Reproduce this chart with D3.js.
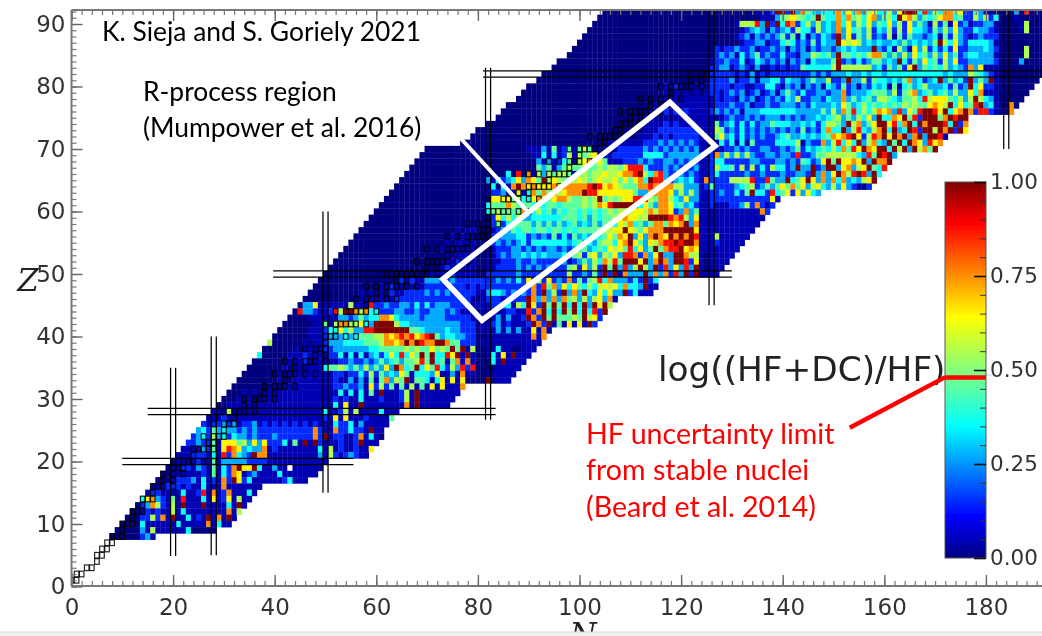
<!DOCTYPE html>
<html><head><meta charset="utf-8">
<script src="https://cdn.jsdelivr.net/npm/d3@7"></script>
<style>html,body{margin:0;padding:0;background:#fff;overflow:hidden}svg{display:block}</style>
</head><body><svg id="c" width="1042" height="636"></svg>
<script>
// Z values of the rows listed below, top row first
const zValues = d3.range(92, 7, -1);
const firstN = [105,104,103,102,101,100,99,98,96,95,93,92,90,89,88,86,85,84,82,80,79,77,
70,69,68,67,66,65,64,63,62,61,60,59,58,57,56,55,54,53,52,51,50,49,48,47,46,45,44,43,42,41,40,39,38,37,36,35,34,33,32,31,30,29,28,27,26,25,24,23,22,21,20,19,18,17,16,15,14,13,12,11,10,9,8];
const lastN = [191,191,191,191,191,191,191,191,191,191,191,190,189,188,187,186,185,176,176,176,172,171,
170,162,161,160,159,158,157,147,139,138,137,136,135,134,133,132,131,130,129,128,127,115,115,114,107,106,105,104,103,94,93,92,91,90,89,88,87,86,77,76,75,74,64,63,62,61,61,60,59,58,50,49,48,46,37,36,35,34,33,32,31,28,16];
// Colour levels read per row: "firstDecade:levels" (cells before it and after its end are level 0)
const levelRows = [
"130:000001112a a2a3854344 4847483674 4637aaa493 6488572253 1100003090 0",
"130:0000001113 5676545a54 4848564783 564a786354 5788452263 6240001000 0",
"130:0166693a2a 4982463634 3847364735 4736273531 6251723122 3310000160 0",
"130:0012343132 3426442634 3837453624 3626274432 5363732243 3210000160 0",
"130:0123132323 5251413243 2a37253623 2615253323 4152632123 2220000000 0",
"130:0012233122 4542325243 3a76763434 3343534343 5a64732444 4310000000 0",
"120:0000000212 2322312232 3132313233 23434333a3 2416317362 4242722333 4320000060 0",
"120:0000000232 3142352322 4221336545 3a55454688 5353637453 6373523443 3310000060 0",
"120:0000001223 2241243232 3132314333 5a23242355 343a425374 5263722333 3320000300 0",
"120:0000002233 1232131121 2122544444 6a66666634 253527a354 5463432837 1110000000 0",
"120:0000002222 2121312122 2222223232 3334334344 3444444444 4434333654 3210000000 0",
"120:0000002222 3122313344 2433235336 223a336254 4343583423 4a35342a35 3a10000000 0",
"110:0000001112 1010102222 1221122442 1323132314 3252313243 4151453463 3342523a47 2210000000",
"110:0000000101 0101012212 3231231231 3532422332 3382333455 5362568345 3453633748 1110000000",
"110:0000001111 1111111212 2132312323 2436223324 3383534536 6543556496 77754636a6 4310000000",
"110:0000010101 1111111222 3223122322 3332324333 4375346454 5454656557 876a47459a 3410080000",
"110:0000111212 1211112323 2313334444 4443333353 6385946468 7839375 9aa 97a478a829 921008",
"110:0001110101 1111111112 3223232333 2323233434 563536473a 4487a592aa a58a9aa",
"110:0001111212 1111111523 4242423354 4433434246 653a68357a a7948a4a8a aa94a28",
"110:0001112222 2222111652 3242323232 3232523248 44a3694368 a4a34a92aa 6a8a2a7",
"110:0011121212 2222111573 4242323223 4533434345 8789a72698 a7a8a38a3a a91",
"100:0000001111 1112223232 3232111142 4141522224 4446132283 69474a3684 3a5a4a8739 78",
"90:1113151251 5651111122 2223232323 2323111112 2323223322 3235243454 648597a87a a4a6a3a685 a",
"90:0114141261 6567111222 2224444233 3333212836 3636322332 3329223556 666664395a 9a3",
"90:0031312451 6785751112 2232322332 3232112442 2222332223 323254237a 5a7787a3a8 8a",
"90:0053513565 5655656657 9994222323 2323112644 5262624264 423a33a23a a378367a54 9",
"80:0000004090 8163656651 5656676678 89a6489322 3232112422 2223223222 322332a383 7a869a93a4",
"80:0031423473 875a676566 7656766757 5784a99323 4342182222 6666922953 3a457a7383 84834367a",
"80:0004041 8a8 7877787888 889a978765 5588988886 6333125222 2345623535 7585736743 63732102",
"80:0012231171 4858586788 8a99777777 7533888873 6363112232 2425a44294 5727374322",
"80:0007777564 4786578865 56 56a56567 7999658864 3733112222 2222222271",
"80:0045558655 5454554555 565687 9aaa aa47538874 5342112111 223628212",
"80:0045655558 5464535455 4545456566 6776868872 3835111111 11111182",
"80:0002746463 3444444555 4535455678 7766aaaa98 9637111111 1111111",
"80:0002524555 5353535345 3435356476 8453588587 8a38111111 111111",
"70:0000001011 0001233545 5455455454 555566677a 7657888aaa aaa7111111 11111",
"70:0000010111 0002233344 2323252425 3435457587 a3738a87a8 a8a9111611 1111",
"70:0000101111 0002323234 2444444434 5343566478 a75376899a 9aa8111211 111",
"70:0001011111 0011222332 3232332323 4534547675 94735a5899 a787111111 11",
"70:0000101111 0011232334 3434333425 6267365739 982837a33a a866101111 1",
"70:0001112111 0011122232 2322222312 353648695a aa7a38a83a a927101111",
"70:0001211111 0011222232 3232312256 27362a5a39 36a63a2937 393a101 11",
"70:0111221111 0022222232 2222222262 23252a2a18 333a383829 3a2a1111",
"60:0000021211 3332232222 2222323242 7262723282 5256948333 242a24",
"60:0112111111 2222222212 1222222222 2829583747 5464676748 443a11",
"50:0000000101 1112112222 3232322222 1134432323 282a362a38 3a4374733a 24111",
"50:0000000111 1111222222 2222222221 0122212222 a838383856 3636738161",
"40:0000003371 1111161119 2232233242 4233322221 1112234164 a72a5a5a4a 4a3a7a61",
"40:0000093321 1296aa8684 4222332232 2333232111 0111112211 928a4a4a5a 4a492a",
"40:0000000111 1113323534 4887433332 3333222221 0111313112 a82a5a5556 5a672",
"40:0000000011 5168866743 aaaa644333 3333333222 0112312111 2a82a15171 71a2",
"40:0000000111 2447463399 aaaaaaa554 3333433222 0111313131 17181",
"40:0000000111 2333434555 6687898978 9a53443322 0011111111 1818",
"30:0000000006 0000001011 2333444455 568878a8a9 88aa855222 0111111111 111",
"40:0000101111 2233333334 4555556565 57565a5a16 0011411001 11",
"30:0000000400 0001112111 1224141413 424749475a 5a4497a1a1 0014171a11 1",
"40:0001112111 1112232232 3534535569 5a45158181 00041a1111",
"40:0010111111 4556535363 5373a845a4 7594263929 000011111",
"40:0101111111 1122122426 2534375144 4371131811 00111111",
"40:0110111111 1121131315 158365a155 4147171700 00a0111",
"40:1011111111 1122322317 2625151615 17171118",
"30:5000101011 1111111111 1114141415 1a111261a1 1111111",
"30:0001010011 1111111111 1121211411 1211126 1a1 111111",
"30:0111111111 1111111111 1141711a11 11111181a1 11111",
"20:0000000011 1611111111 1111111111 4112616111 14111",
"20:0000001111 2111111111 1111111111 2171711121 1115",
"20:0112232122 3231223121 2121212121 1142241311 111",
"20:0123334253 4332323222 2222222282 118224221a 11",
"20:1122234263 4243323 222 3222222282 a122112814 1",
"20:1112232251 7775637372 224151a1a2 1112112a11 1",
"20:1111113251 7987343381 2111111114 1612112117",
"20:1111222141 928432a881 1111111113 162123211",
"20:0111121151 3333322221 1111111111 1",
"20:1122132151 428a77a411 311w111111",
"20:1111112151 4287123111 141111111",
"20:1222314121 82a7241111 1124111",
"10:0000001112 2212114111 81111111",
"10:0000012211 1141129181 2811141",
"10:0000478321 5191114171 271611",
"10:0000238621 61a111a111 141a1",
"10:0000121211 6141111111 1816",
"10:0000226281 a114121a18 1a1",
"10:0000411111 1411111814 11",
"10:0000316111 111400000",
"10:0000231"
];
const levelCodes = "0123456789a";
const levelValues = [0,0.045,0.15,0.27,0.36,0.46,0.55,0.65,0.75,0.88,1];
// Stable nuclei (outlined squares): proton number, then its neutron numbers
const stableZ = [1,2,3,4,5,6,7,8,9,10,11,12,13,14,15,16,17,18,19,20,21,22,23,24,25,26,27,28,29,30,31,32,33,34,35,36,37,38,39,40,41,42,44,45,46,47,48,49,50,51,52,53,54,55,56,57,58,59,60,62,63,64,65,66,67,68,69,70,71,72,73,74,75,76,77,78,79,80,81,82,83];
const stableN = [[0,1],[1,2],[3,4],[5],[5,6],[6,7],[7,8],[8,9,10],[10],[10,11,12],[12],[12,13,14],[14],[14,15,16],[16],[16,17,18,20],[18,20],[18,20,22],[20,21,22],[20,22,23,24,26,28],[24],[24,25,26,27,28],[27,28],[26,28,29,30],[30],[28,30,31,32],[32],[30,32,33,34,36],[34,36],[34,36,37,38,40],[38,40],[38,40,41,42,44],[42],[40,42,43,44,46,48],[44,46],[42,44,46,47,48,50],[48,50],[46,48,49,50],[50],[50,51,52,54,56],[52],[50,52,53,54,55,56,58],[52,54,55,56,57,58,60],[58],[56,58,59,60,62,64],[60,62],[58,60,62,63,64,65,66,68],[64,66],[62,64,65,66,67,68,69,70,72,74],[70,72],[68,70,71,72,73,74,76,78],[74],[70,72,74,75,76,77,78,80,82],[78],[74,76,78,79,80,81,82],[81,82],[78,80,82,84],[82],[82,83,84,85,86,88,90],[82,85,86,87,88,90,92],[88,90],[90,91,92,93,94,96],[94],[90,92,94,95,96,97,98],[98],[94,96,98,99,100,102],[100],[98,100,101,102,103,104,106],[104,105],[102,104,105,106,107,108],[107,108],[108,109,110,112],[110,112],[108,110,111,112,113,114,116],[114,116],[112,114,116,117,118,120],[118],[116,118,119,120,121,122,124],[122,124],[122,124,125,126],[126]];
// Magic numbers: the double lines and how far each one runs
const magicZ = [[20,10,55.5],[28,15,83.5],[50,39.7,130],[82,81,192]];
const magicN = [[20,4.9,35],[28,5,40],[50,15,60],[82,26.7,83],[126,45,93],[184,70,93]];
const xTicksMajor = d3.range(0,181,20), xTicksMinor = d3.range(0,192,2);
const yTicksMajor = d3.range(0,91,10), yTicksMinor = d3.range(0,93,1);
const cbarMajor = [0,0.25,0.5,0.75,1], cbarMinor = d3.range(0,1.001,0.05);
const rprocessBox = [[117.8,77.5],[126.7,70.5],[80.8,42.6],[73.1,49.2]];
const rprocessPointer = [[76.5,71.8],[89.9,59.9]];
const limitPointer = [[153.2,25.4],[172,33.5]];
const limitValue = 0.48;

const jetStops = [0,0.11,0.35,0.64,0.89,1];
const jetColours = ["#00007f","#0000ff","#00ffff","#ffff00","#ff0000","#7f0000"];
const color = d3.scaleLinear().domain(jetStops).range(jetColours);

const svg = d3.select("#c");
const x = d3.scaleLinear().domain([0,191]).range([71.5,1041.8]);
const y = d3.scaleLinear().domain([0,92.2]).range([586.5,10.25]);
const cb = d3.scaleLinear().domain([0,1]).range([558,182]);

const defs = svg.append("defs");
defs.append("clipPath").attr("id","plot").append("rect").attr("x",71.5).attr("y",10).attr("width",971).attr("height",577);
defs.append("filter").attr("id","b1").attr("x","-2%").attr("y","-2%").attr("width","104%").attr("height","104%").append("feGaussianBlur").attr("stdDeviation",0.75);
defs.append("filter").attr("id","b2").attr("x","-2%").attr("y","-2%").attr("width","104%").attr("height","104%").append("feGaussianBlur").attr("stdDeviation",0.45);
const grad = defs.append("linearGradient").attr("id","jet").attr("x1",0).attr("y1",1).attr("x2",0).attr("y2",0);
jetStops.forEach((s,i)=>grad.append("stop").attr("offset",s).attr("stop-color",jetColours[i]));

const cells = [];
zValues.forEach((z,i)=>{
  const [lit,str] = levelRows[i].split(":");
  const lv = str.replace(/ /g,"");
  for(let n=firstN[i]; n<=lastN[i]; n++){
    const c = lv[n-(+lit)];
    cells.push({n,z,c:(c===undefined||n<+lit)?"0":c});
  }
});
const plot = svg.append("g").attr("clip-path","url(#plot)");
const heat = plot.append("g").attr("filter","url(#b1)");
heat.selectAll("rect").data(cells).join("rect")
  .attr("x",d=>x(d.n-0.5)).attr("y",d=>y(d.z+0.5))
  .attr("width",d=>x(d.n+0.5)-x(d.n-0.5)+0.3).attr("height",d=>y(d.z-0.5)-y(d.z+0.5)+0.3)
  .attr("fill",d=>d.c==="w"?"#fff":color(levelValues[levelCodes.indexOf(d.c)]));

const stable = stableZ.flatMap((z,i)=>stableN[i].map(n=>({n,z})));
const over = plot.append("g").attr("filter","url(#b2)");
over.selectAll("rect").data(stable).join("rect")
  .attr("x",d=>x(d.n-0.45)).attr("y",d=>y(d.z+0.45))
  .attr("width",d=>x(d.n+0.45)-x(d.n-0.45)).attr("height",d=>y(d.z-0.45)-y(d.z+0.45))
  .attr("fill","none").attr("stroke","#000").attr("stroke-width",1.2).attr("opacity",0.85);

const lineData = [];
magicZ.forEach(([m,a,b])=>[m-0.5,m+0.5].forEach(v=>lineData.push({x1:x(a),x2:x(b),y1:y(v),y2:y(v)})));
magicN.forEach(([m,a,b])=>[m-0.5,m+0.5].forEach(v=>lineData.push({x1:x(v),x2:x(v),y1:y(a),y2:y(b)})));
over.selectAll("line").data(lineData).join("line")
  .attr("x1",d=>d.x1).attr("x2",d=>d.x2).attr("y1",d=>d.y1).attr("y2",d=>d.y2)
  .attr("stroke","#000").attr("stroke-width",1.25);

// axes
const axisG = svg.append("g").attr("filter","url(#b2)");
const tickFont = "'DejaVu Sans'";
function minor(sel){sel.select(".domain").remove();sel.selectAll("text").remove();sel.selectAll("line").attr("stroke","#777").attr("stroke-width",1.2);}
axisG.append("g").attr("transform","translate(0,586)").call(d3.axisBottom(x).tickValues(xTicksMinor).tickSize(-5).tickFormat("")).call(minor);
axisG.append("g").attr("transform","translate(0,10)").call(d3.axisTop(x).tickValues(xTicksMinor).tickSize(-5).tickFormat("")).call(minor);
axisG.append("g").attr("transform","translate(71.5,0)").call(d3.axisLeft(y).tickValues(yTicksMinor).tickSize(-5).tickFormat("")).call(minor);
function major(sel){sel.select(".domain").remove();sel.selectAll("line").attr("stroke","#666").attr("stroke-width",1.4);sel.selectAll("text").attr("font-family",tickFont).attr("font-size",23).attr("fill","#333");}
axisG.append("g").attr("transform","translate(0,586)").call(d3.axisBottom(x).tickValues(xTicksMajor).tickSize(-11).tickPadding(13)).call(major);
axisG.append("g").attr("transform","translate(0,10)").call(d3.axisTop(x).tickValues(xTicksMajor).tickSize(-11).tickFormat("")).call(major);
axisG.append("g").attr("transform","translate(71.5,0)").call(d3.axisLeft(y).tickValues(yTicksMajor).tickSize(-11).tickPadding(6)).call(major);
axisG.selectAll("path.sp").data([[[71.5,10],[1042,10]],[[71.5,10],[71.5,586]],[[71.5,586],[1042,586]]]).join("path").attr("class","sp")
  .attr("d",d=>d3.line()(d)).attr("stroke","#777").attr("stroke-width",2).attr("fill","none");
axisG.append("text").attr("x",28).attr("y",291).attr("text-anchor","middle").attr("font-family","'DejaVu Serif','Liberation Serif'").attr("font-style","italic").attr("font-size",31).attr("fill","#222").text("Z");
axisG.append("text").attr("x",583).attr("y",645).attr("text-anchor","middle").attr("font-family","'DejaVu Serif','Liberation Serif'").attr("font-style","italic").attr("font-size",31).attr("fill","#222").text("N");

// r-process box and pointer
svg.append("path").attr("d",d3.line().x(d=>x(d[0])).y(d=>y(d[1])).curve(d3.curveLinearClosed)(rprocessBox)).attr("fill","none").attr("stroke","#fff").attr("stroke-width",5.5);
svg.append("path").attr("d",d3.line().x(d=>x(d[0])).y(d=>y(d[1]))(rprocessPointer)).attr("fill","none").attr("stroke","#fff").attr("stroke-width",4);

// colour bar
const cbG = svg.append("g").attr("filter","url(#b2)");
cbG.append("rect").attr("x",945).attr("y",cb(1)).attr("width",41).attr("height",cb(0)-cb(1)).attr("fill","url(#jet)").attr("stroke","#555").attr("stroke-width",1);
function cbMinor(sel){sel.select(".domain").remove();sel.selectAll("text").remove();sel.selectAll("line").attr("stroke","#333").attr("stroke-width",1);}
cbG.append("g").attr("transform","translate(986,0)").call(d3.axisRight(cb).tickValues(cbarMinor).tickSize(-6).tickFormat("")).call(cbMinor);
const cbAx = cbG.append("g").attr("transform","translate(986,0)").call(d3.axisRight(cb).tickValues(cbarMajor).tickSize(-12).tickPadding(4).tickFormat(d3.format(".2f")));
cbAx.select(".domain").remove();
cbAx.selectAll("line").attr("stroke","#111").attr("stroke-width",1.6);
cbAx.selectAll("text").attr("font-family",tickFont).attr("font-size",21.5).attr("fill","#333");

svg.append("text").attr("x",658).attr("y",381).attr("font-family",tickFont).attr("font-size",34.3).attr("fill","#222").attr("filter","url(#b2)").text("log((HF+DC)/HF)");

// limit marker
svg.append("path").attr("d",d3.line().x(d=>x(d[0])).y(d=>y(d[1]))(limitPointer)+`L945,${cb(limitValue)}L986,${cb(limitValue)}`)
  .attr("fill","none").attr("stroke","#ff0000").attr("stroke-width",4.5);

// slide annotations
const blackNotes = [["K. Sieja and S. Goriely 2021",102,41],["R-process region",143,101],["(Mumpower et al. 2016)",143,137]];
const redNotes = [["HF uncertainty limit",586,444],["from stable nuclei",586,480],["(Beard et al. 2014)",586,517]];
svg.selectAll("text.bn").data(blackNotes).join("text").attr("class","bn").attr("x",d=>d[1]).attr("y",d=>d[2]).attr("font-family","Lato").attr("font-size",26.4).attr("fill","#000").text(d=>d[0]);
svg.selectAll("text.rn").data(redNotes).join("text").attr("class","rn").attr("x",d=>d[1]).attr("y",d=>d[2]).attr("font-family","Lato").attr("font-size",28.6).attr("fill","#ff0000").text(d=>d[0]);

// slide edge
svg.append("rect").attr("x",0).attr("y",632).attr("width",1042).attr("height",4).attr("fill","#efefef");
svg.append("line").attr("x1",0).attr("x2",1042).attr("y1",632).attr("y2",632).attr("stroke","#d8d8d8");
</script></body></html>
